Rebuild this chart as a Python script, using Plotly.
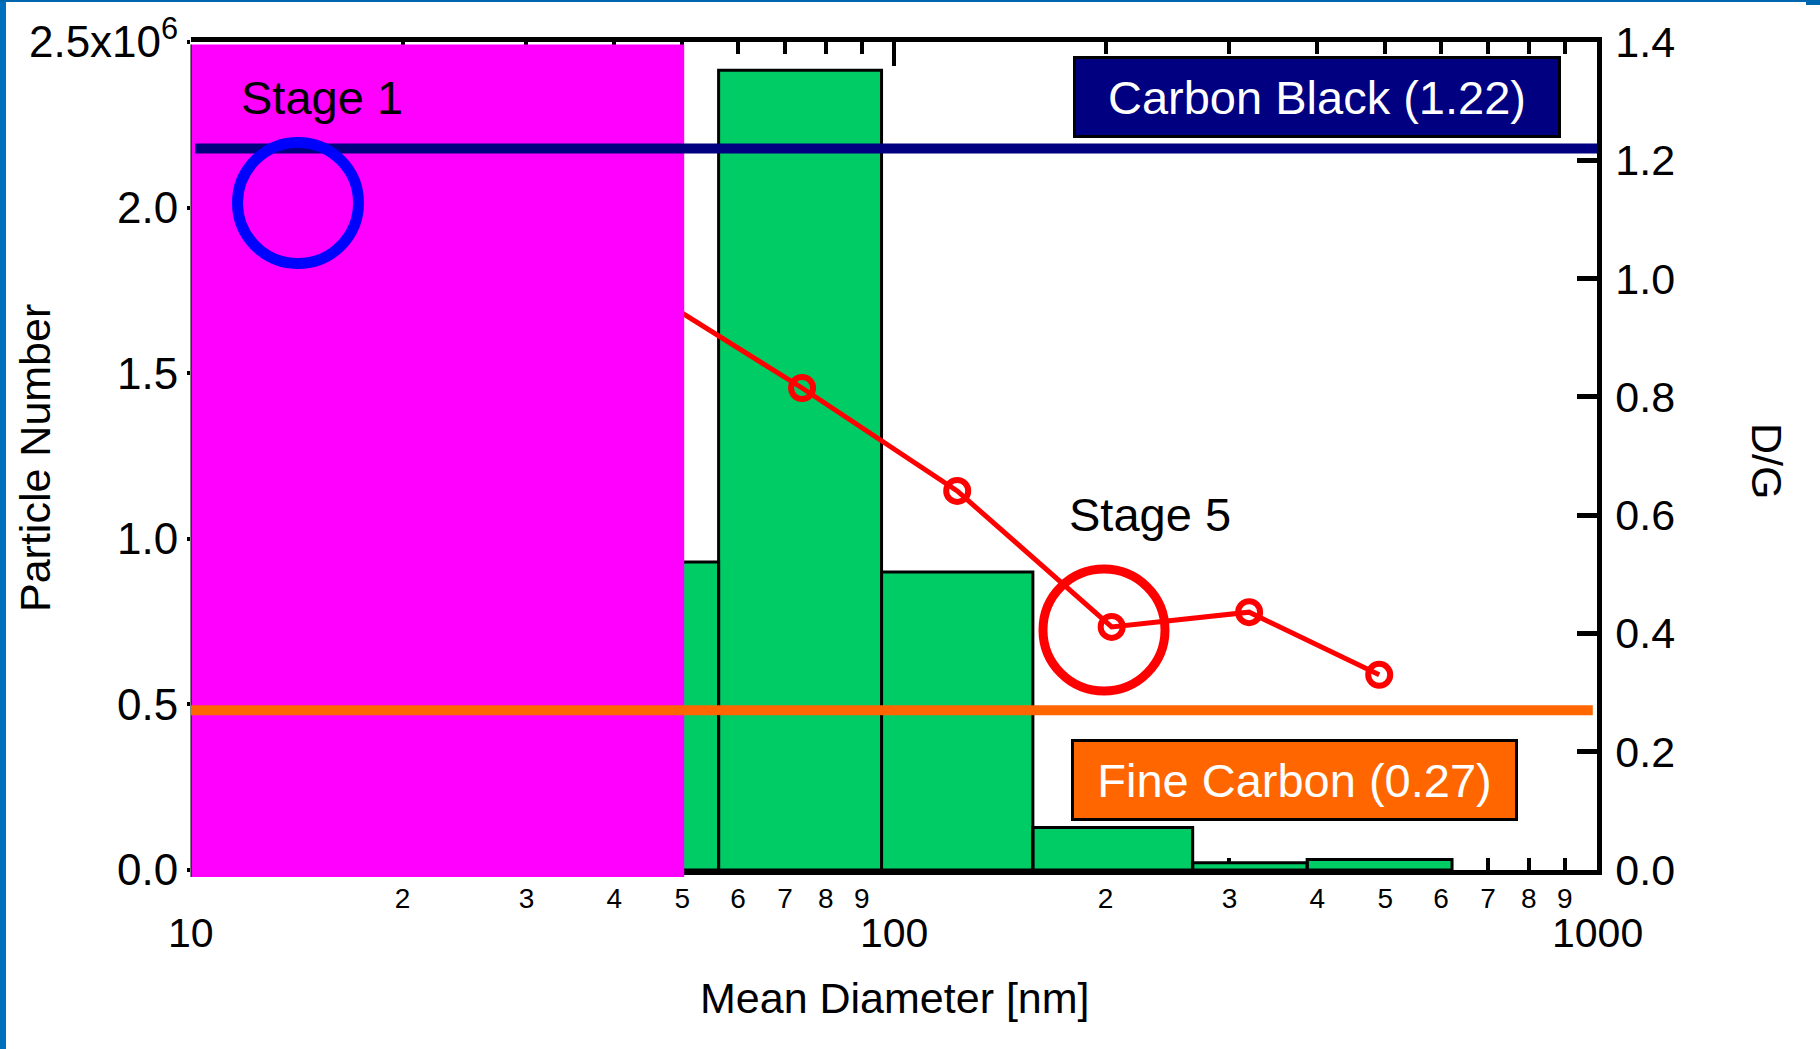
import math
import plotly.graph_objects as go

# ---- data -------------------------------------------------------------
# particle size histogram: bin edges [nm] and particle counts per bin
bin_edges = [33.0, 56.3, 96.0, 157.6, 266.0, 387.0, 622.0]
particle_counts = [0.93e6, 2.415e6, 0.90e6, 0.128e6, 0.022e6, 0.032e6]

# Raman D/G ratio measured at each bin's mean diameter
dg_diameter = [43.0, 74.0, 123.0, 204.0, 320.0, 490.0]
dg_ratio = [0.99, 0.815, 0.641, 0.411, 0.436, 0.330]

# reference D/G levels
carbon_black_dg = 1.22
fine_carbon_dg = 0.27

# stage-1 region (upper diameter bound, nm)
stage1_limit = 50.3

# axis ticks
left_tickvals = [0.0, 0.5e6, 1.0e6, 1.5e6, 2.0e6, 2.5e6]
left_ticktext = ["0.0", "0.5", "1.0", "1.5", "2.0", "2.5x10<sup>6</sup>"]
right_tickvals = [0.0, 0.2, 0.4, 0.6, 0.8, 1.0, 1.2, 1.4]
x_major = [10, 100, 1000]
x_minor = [20, 30, 40, 50, 60, 70, 80, 90, 200, 300, 400, 500, 600, 700, 800, 900]
x_minor_text = ["2", "3", "4", "5", "6", "7", "8", "9",
                "2", "3", "4", "5", "6", "7", "8", "9"]

# ---- layout geometry (pixels) ----------------------------------------
W, H = 1820, 1049
ML, MR, MT, MB = 191, 223, 42, 179
PW = W - ML - MR
PH = H - MT - MB
FONT = "Liberation Sans, Arial, sans-serif"


def px_x(p):
    return (p - ML) / PW


def px_y(p):
    return (H - MB - p) / PH


# ---- traces -----------------------------------------------------------
bar_x, bar_y = [], []
for left, right, n in zip(bin_edges[:-1], bin_edges[1:], particle_counts):
    bar_x += [left, left, right, right, left, None]
    bar_y += [0, n, n, 0, 0, None]

fig = go.Figure()
fig.add_trace(go.Scatter(
    x=bar_x, y=bar_y, mode="lines", fill="toself",
    fillcolor="#00CC66", line=dict(color="black", width=3),
    hoverinfo="skip", showlegend=False, yaxis="y"))

fig.add_trace(go.Scatter(
    x=dg_diameter, y=dg_ratio, mode="lines+markers",
    line=dict(color="#FF0000", width=5),
    marker=dict(symbol="circle-open", size=22, color="#FF0000",
                line=dict(color="#FF0000", width=6)),
    showlegend=False, yaxis="y2"))

# ---- shapes -----------------------------------------------------------
shapes = []
# stage-1 region
shapes.append(dict(type="rect", xref="x", yref="paper",
                   x0=10, x1=stage1_limit, y0=px_y(877), y1=px_y(44.5),
                   fillcolor="#FF00FF", line=dict(width=0), layer="above"))
shapes.append(dict(type="line", xref="paper", yref="paper",
                   x0=0, x1=0, y0=px_y(877), y1=px_y(44.5),
                   line=dict(color="black", width=1), layer="above"))
# reference D/G levels
shapes.append(dict(type="line", xref="paper", yref="y2",
                   x0=0.003, x1=1, y0=carbon_black_dg, y1=carbon_black_dg,
                   line=dict(color="#000080", width=10), layer="above"))
shapes.append(dict(type="line", xref="paper", yref="y2",
                   x0=0, x1=0.997, y0=fine_carbon_dg, y1=fine_carbon_dg,
                   line=dict(color="#FF6600", width=10), layer="above"))
# highlight rings (stage 1 and stage 5)
for cx, cy, r, w, col in [(298, 203, 60.5, 11, "#0000FF"),
                          (1104, 630, 61, 9, "#FF0000")]:
    shapes.append(dict(type="circle", xref="paper", yref="paper",
                       xsizemode="pixel", ysizemode="pixel",
                       xanchor=px_x(cx), yanchor=px_y(cy),
                       x0=-r, x1=r, y0=-r, y1=r,
                       line=dict(color=col, width=w), layer="above"))
# slide frame
shapes.append(dict(type="rect", xref="paper", yref="paper",
                   x0=px_x(0), x1=px_x(6), y0=px_y(H), y1=px_y(0),
                   fillcolor="#0070BE", line=dict(width=0)))
shapes.append(dict(type="rect", xref="paper", yref="paper",
                   x0=px_x(0), x1=px_x(1806), y0=px_y(2), y1=px_y(0),
                   fillcolor="#0066AD", line=dict(width=0)))
shapes.append(dict(type="rect", xref="paper", yref="paper",
                   x0=px_x(1806), x1=px_x(W), y0=px_y(5), y1=px_y(0),
                   fillcolor="#0066AD", line=dict(width=0)))

# ---- annotations ------------------------------------------------------
ann = []
for v in x_major:
    ann.append(dict(x=math.log10(v), xref="x", y=px_y(933), yref="paper",
                    text=str(v), showarrow=False, xanchor="center",
                    yanchor="middle", font=dict(size=41, color="black")))
ann.append(dict(x=px_x(35), y=px_y(458), xref="paper", yref="paper",
                text="Particle Number", textangle=-90, showarrow=False,
                xanchor="center", yanchor="middle",
                font=dict(size=43, color="black")))
ann.append(dict(x=px_x(895), y=px_y(998), xref="paper", yref="paper",
                text="Mean Diameter [nm]", showarrow=False,
                xanchor="center", yanchor="middle",
                font=dict(size=43, color="black")))
ann.append(dict(x=px_x(1767), y=px_y(461), xref="paper", yref="paper",
                text="D/G", textangle=90, showarrow=False,
                xanchor="center", yanchor="middle",
                font=dict(size=43, color="black")))
ann.append(dict(x=px_x(239), y=px_y(98), xref="paper", yref="paper",
                text="Stage 1", showarrow=False, xanchor="left",
                yanchor="middle", font=dict(size=47, color="black")))
ann.append(dict(x=px_x(1067), y=px_y(514), xref="paper", yref="paper",
                text="Stage 5", showarrow=False, xanchor="left",
                yanchor="middle", font=dict(size=47, color="black")))
ann.append(dict(x=px_x(1073), y=px_y(56), xref="paper", yref="paper",
                text=f"Carbon Black ({carbon_black_dg:.2f})", showarrow=False,
                xanchor="left", yanchor="top", width=482, height=76,
                bgcolor="#000080", bordercolor="black", borderwidth=3,
                borderpad=0, font=dict(size=47, color="white")))
ann.append(dict(x=px_x(1071), y=px_y(739), xref="paper", yref="paper",
                text=f"Fine Carbon ({fine_carbon_dg:.2f})", showarrow=False,
                xanchor="left", yanchor="top", width=441, height=76,
                bgcolor="#FF6600", bordercolor="black", borderwidth=3,
                borderpad=0, font=dict(size=47, color="white")))

# ---- layout -----------------------------------------------------------
fig.update_layout(
    width=W, height=H,
    margin=dict(l=ML, r=MR, t=MT, b=MB, autoexpand=False),
    paper_bgcolor="white", plot_bgcolor="white",
    font=dict(family=FONT, color="black"),
    showlegend=False,
    shapes=shapes, annotations=ann,
    xaxis=dict(
        type="log", range=[1, 3],
        showline=True, linecolor="black", linewidth=4.5, mirror="allticks",
        ticks="inside", ticklen=12, tickwidth=4, tickcolor="black",
        tickmode="array", tickvals=x_minor, ticktext=x_minor_text,
        tickfont=dict(size=28), ticklabelstandoff=0,
        minor=dict(tickmode="array", tickvals=x_major, ticks="inside",
                   ticklen=24, tickwidth=4, tickcolor="black"),
        showgrid=False, zeroline=False, layer="below traces",
    ),
    yaxis=dict(
        range=[0, 2.5e6], showline=False,
        tickmode="array", tickvals=left_tickvals, ticktext=left_ticktext,
        ticks="outside", ticklen=3, tickwidth=4, tickcolor="black",
        tickfont=dict(size=44), ticklabelstandoff=0,
        showgrid=False, zeroline=False,
    ),
    yaxis2=dict(
        overlaying="y", side="right", range=[0, 1.4],
        showline=True, linecolor="black", linewidth=4.5,
        tickmode="array", tickvals=right_tickvals,
        ticktext=[f"{v:.1f}" for v in right_tickvals],
        ticks="inside", ticklen=20, tickwidth=4.5, tickcolor="black",
        tickfont=dict(size=43), ticklabelstandoff=5,
        showgrid=False, zeroline=False,
    ),
)

fig.write_html("out.html")
